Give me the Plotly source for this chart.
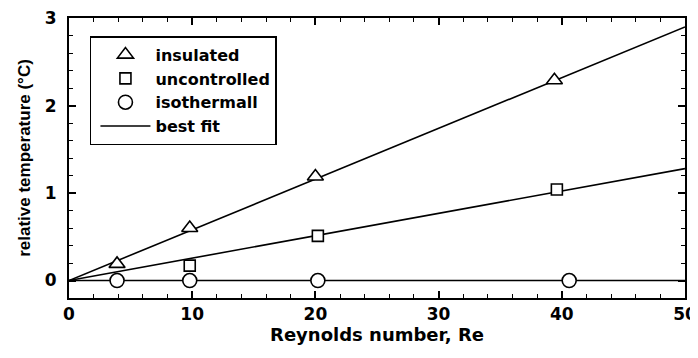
import plotly.graph_objects as go

# data
ins_x = [3.9, 9.8, 20.0, 39.4]
ins_y = [0.19, 0.60, 1.19, 2.29]
unc_x = [9.8, 20.2, 39.6]
unc_y = [0.17, 0.51, 1.04]
iso_x = [3.9, 9.8, 20.2, 40.6]
iso_y = [0.0, 0.0, 0.0, 0.0]
fit_x = [0, 50]
fit_ins = [0, 2.9]
fit_unc = [0, 1.28]
fit_iso = [0, 0]

x_ticks = [0, 10, 20, 30, 40, 50]
y_ticks = [0, 1, 2, 3]

fig = go.Figure()
for fy in (fit_ins, fit_unc, fit_iso):
    fig.add_trace(go.Scatter(x=fit_x, y=fy, mode="lines", line=dict(color="black", width=1.6),
                             showlegend=False, hoverinfo="skip"))

mk = dict(color="white", line=dict(color="black", width=1.6))
fig.add_trace(go.Scatter(x=ins_x, y=ins_y, mode="markers", name="insulated",
                         marker=dict(symbol="triangle-up", size=14, **mk)))
fig.add_trace(go.Scatter(x=unc_x, y=unc_y, mode="markers", name="uncontrolled",
                         marker=dict(symbol="square", size=11, **mk)))
fig.add_trace(go.Scatter(x=iso_x, y=iso_y, mode="markers", name="isothermall",
                         marker=dict(symbol="circle", size=14, **mk)))
fig.add_trace(go.Scatter(x=[None], y=[None], mode="lines", name="best fit",
                         line=dict(color="black", width=1.6)))

FONT = "DejaVu Sans"
axis_common = dict(showgrid=False, zeroline=False, showline=True, linecolor="black", linewidth=2,
                   mirror="ticks", ticks="inside", tickcolor="black", tickwidth=1.5, ticklen=7,
                   automargin=False, ticklabeloverflow="allow",
                   tickfont=dict(family=FONT, size=17, color="black", weight="bold"))

fig.update_xaxes(range=[0, 50], tickvals=x_ticks, ticktext=[str(v) for v in x_ticks],
                 minor=dict(dtick=2, ticks="inside", ticklen=4, tickcolor="black", tickwidth=1.2),
                 title=dict(text="Reynolds number, Re",
                            font=dict(family=FONT, size=18, color="black", weight="bold"),
                            standoff=3),
                 **axis_common)
fig.update_yaxes(range=[-0.2, 3.002], tickvals=y_ticks, ticktext=[str(v) for v in y_ticks],
                 minor=dict(dtick=0.2, tick0=0, ticks="inside", ticklen=4, tickcolor="black", tickwidth=1.2),
                 ticklabelstandoff=7,
                 title=dict(text="relative temperature (°C)",
                            font=dict(family="Liberation Sans", size=17, color="black", weight="bold"),
                            standoff=10),
                 **axis_common)

# page body has an 8px margin, so the figure is sized/offset to compensate
fig.update_layout(
    width=690, height=350,
    margin=dict(l=61, r=13, t=10, b=60),
    paper_bgcolor="white", plot_bgcolor="white",
    legend=dict(x=0.034, y=0.935, xanchor="left", yanchor="top", bordercolor="black", borderwidth=1.5,
                bgcolor="white", font=dict(family=FONT, size=16, color="black", weight="bold"),
                itemwidth=50, tracegroupgap=0, indentation=4, entrywidth=145, entrywidthmode="pixels"),
)

fig.write_html("out.html")
